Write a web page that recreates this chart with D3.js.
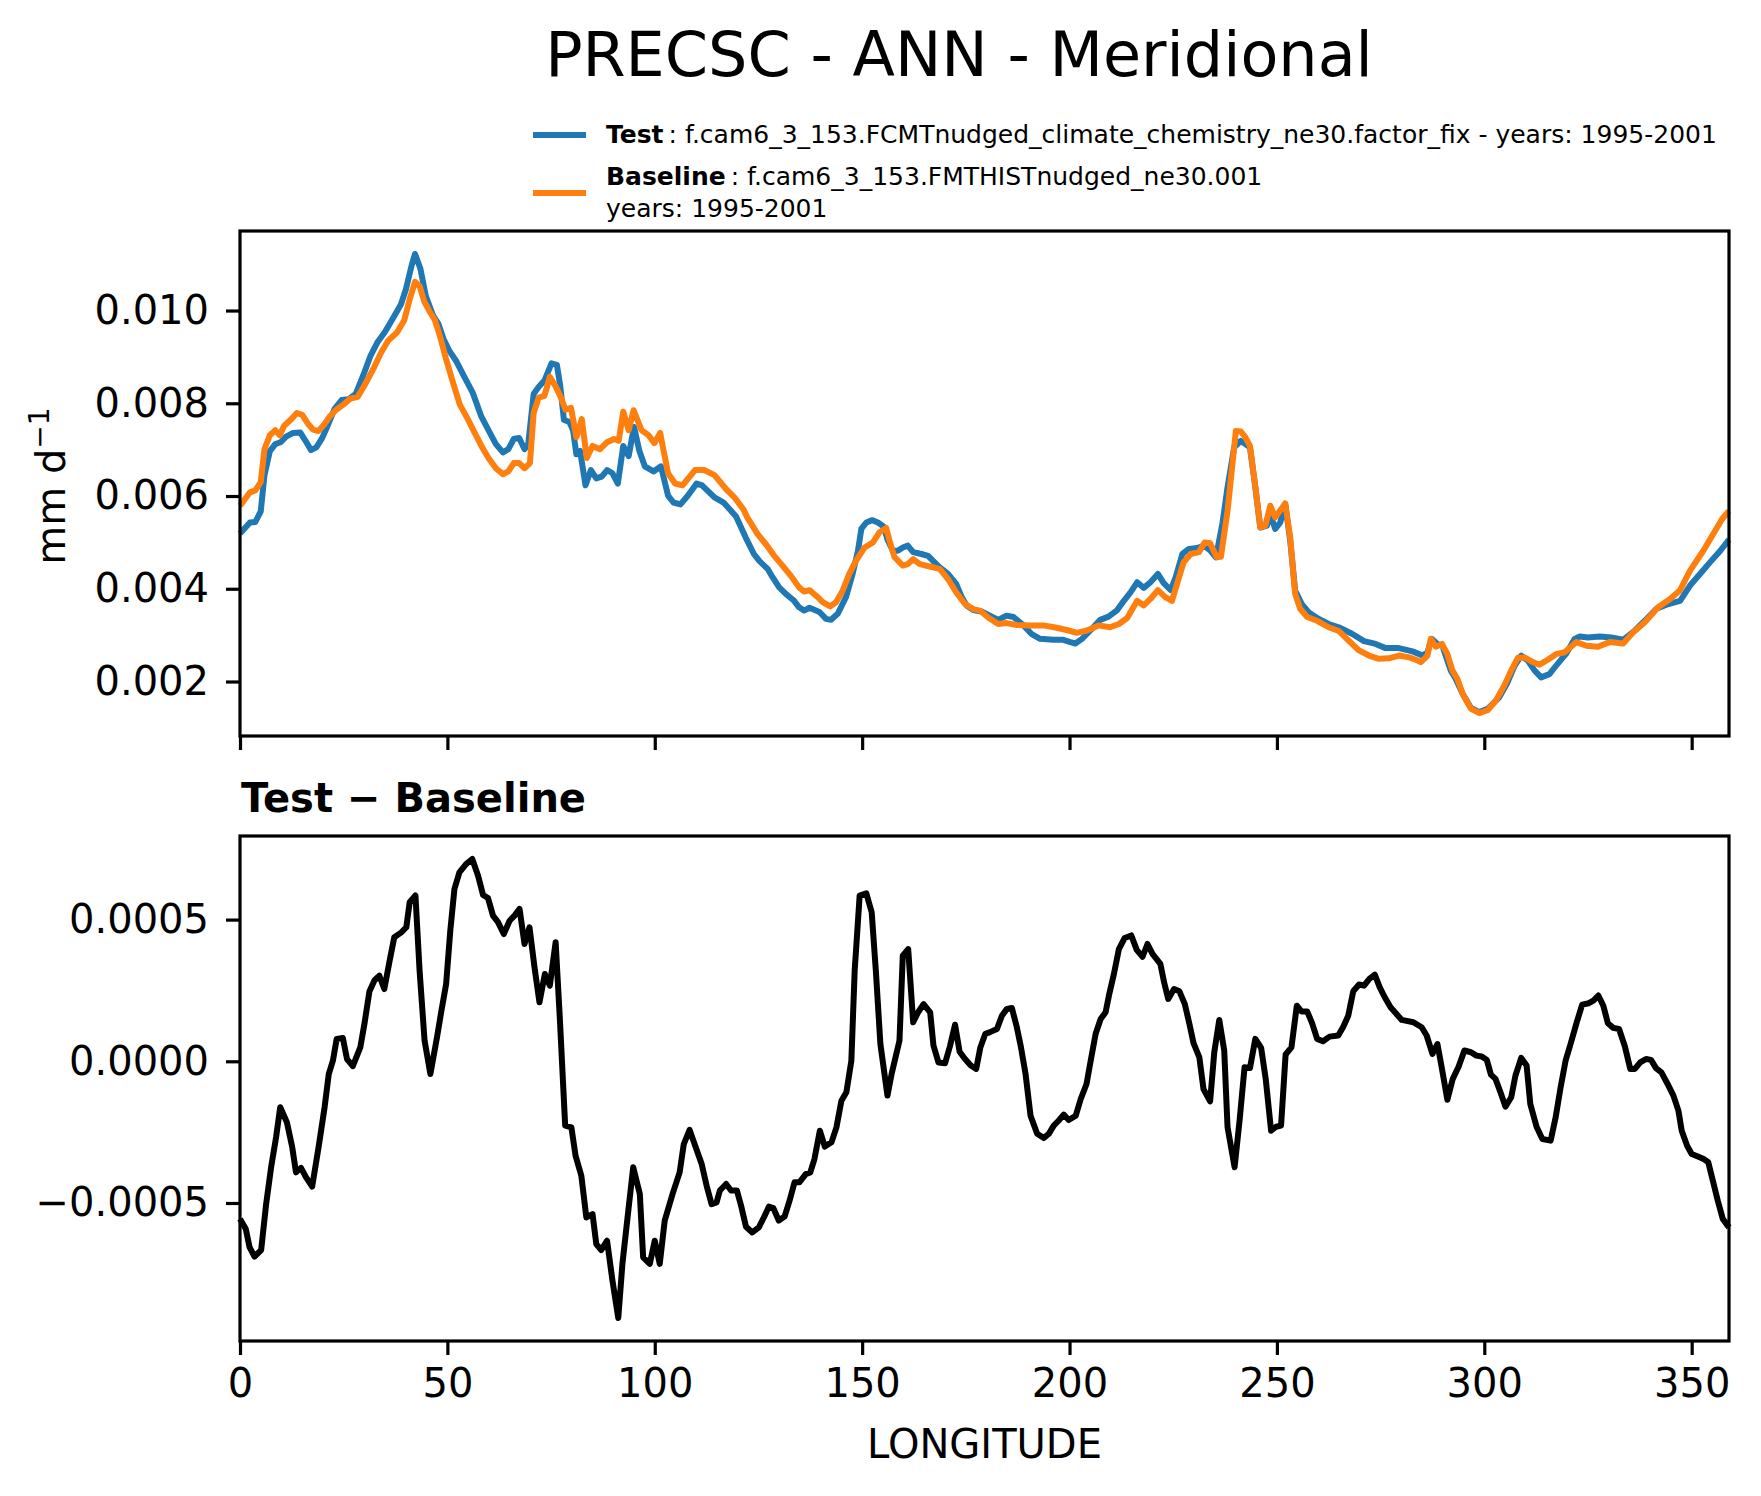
<!DOCTYPE html>
<html>
<head>
<meta charset="utf-8">
<script src="https://cdn.jsdelivr.net/npm/d3@7"></script>
<style>
  html, body { margin: 0; padding: 0; background: #fff; }
  svg { display: block; font-family: 'DejaVu Sans', sans-serif; }
</style>
</head>
<body>
<svg></svg>
<script>
// ---------- data (longitude, mm/day) ----------
const testSeries = [
  [0,0.00519],[2.4,0.00543],[3.7,0.00544],[5,0.00567],[5.9,0.00645],[7.2,0.00697],[8.5,0.00712],[9.8,0.00716],
  [11.1,0.00728],[12.8,0.00736],[14.5,0.00737],[15.8,0.00719],[17.1,0.00699],[18.4,0.00705],[19.7,0.00723],[21,0.00749],
  [22.8,0.00788],[24.5,0.00807],[26.2,0.00809],[27.9,0.0082],[29.7,0.0086],[31.4,0.00901],[33.1,0.00931],[34.9,0.00953],
  [36.6,0.00979],[38.8,0.01013],[40,0.01046],[41.4,0.01098],[42.2,0.01122],[43.5,0.0109],[44.8,0.01031],[46.5,0.0099],
  [47.8,0.00972],[49.1,0.00938],[50.4,0.00914],[52.2,0.0089],[53.9,0.0086],[56.1,0.00823],[58.2,0.00771],[59.9,0.00742],
  [61.7,0.00712],[63.4,0.00694],[64.7,0.00701],[66,0.00723],[67.3,0.00725],[68.6,0.00701],[69.5,0.00712],[70.8,0.0082],
  [72,0.00835],[73.4,0.00849],[75.1,0.00886],[76.4,0.00883],[77.2,0.00838],[78.1,0.00764],[79.4,0.0076],[80.3,0.00742],
  [81.1,0.0069],[82,0.00697],[83.3,0.00623],[84.6,0.00656],[85.9,0.00638],[87.2,0.00642],[88.5,0.00656],[89.8,0.00649],
  [91.1,0.00627],[92.4,0.00708],[93.7,0.00686],[95,0.00749],[96.3,0.00697],[97.6,0.00664],[99.7,0.00653],[101.5,0.00664],
  [103.2,0.00601],[104.5,0.00586],[106.2,0.00582],[108,0.00601],[110.1,0.00627],[111.4,0.00623],[114.4,0.00597],[116.6,0.00586],
  [119.6,0.00556],[121.9,0.00511],[123.9,0.00475],[125.2,0.0046],[127.2,0.00443],[128.4,0.00425],[130,0.00403],[131.6,0.00389],
  [133.6,0.00374],[134.8,0.0036],[136,0.00353],[137.3,0.00359],[139.7,0.0035],[141.3,0.00335],[142.5,0.00333],[144.1,0.00346],
  [146.1,0.00382],[147.7,0.00432],[149,0.00482],[149.8,0.00529],[151,0.00543],[152.4,0.00548],[153.8,0.00543],[155.2,0.00534],
  [156.2,0.00504],[157.4,0.00482],[158.6,0.00482],[159.8,0.00489],[161,0.00493],[162.3,0.00479],[164.3,0.00475],[165.9,0.00471],
  [167.1,0.0046],[168.7,0.00446],[170.7,0.00432],[172.7,0.0041],[174,0.00382],[175.2,0.00364],[176.8,0.00354],[178.8,0.00351],
  [180.8,0.00342],[182.8,0.00333],[184.8,0.00342],[186.5,0.00339],[188.9,0.00321],[190.9,0.00302],[192.9,0.00292],[196.1,0.0029],
  [198.5,0.0029],[200.2,0.00285],[201.4,0.00282],[203,0.00292],[205,0.0031],[207.4,0.00333],[209.4,0.0034],[211.5,0.00354],
  [213.1,0.00374],[214.7,0.00392],[216.3,0.00414],[217.9,0.00402],[219.5,0.00414],[221.3,0.00432],[222.7,0.00412],[224.4,0.00397],
  [225.6,0.00425],[227.2,0.00475],[228.8,0.00486],[230.8,0.00488],[232.4,0.00493],[234,0.00482],[235.3,0.00468],[236.9,0.00543],
  [238.1,0.00619],[239.7,0.00705],[241.3,0.00719],[243.5,0.00705],[244.8,0.00619],[246,0.00532],[247.6,0.00536],[248.4,0.00561],
  [249.6,0.00529],[250.8,0.00543],[252,0.00583],[253.2,0.00504],[254.4,0.00396],[256,0.00367],[257.7,0.00349],[260.1,0.00335],
  [262.5,0.00324],[264.9,0.00317],[268.1,0.00303],[271,0.00287],[273.8,0.00281],[276.2,0.00272],[279.4,0.00272],[282.7,0.00265],
  [285.1,0.00256],[286.3,0.00263],[287.3,0.00292],[288.7,0.00281],[289.9,0.00277],[291.9,0.00224],[293.1,0.00206],[294.8,0.00173],
  [296.8,0.00143],[298.8,0.00134],[300.8,0.00141],[303.6,0.00166],[305.6,0.00198],[307.3,0.00234],[308.9,0.00256],[310.5,0.00245],
  [312.1,0.00224],[313.7,0.00209],[315.7,0.00216],[317.3,0.00234],[319.8,0.00261],[321.8,0.00292],[323,0.00297],[325,0.00295],
  [327.8,0.00297],[330.6,0.00295],[333.5,0.0029],[336.3,0.0031],[338.7,0.00331],[341.5,0.00357],[344.4,0.00367],[347.2,0.00374],
  [349.6,0.00407],[352,0.00432],[354.4,0.00457],[356.9,0.00482],[359,0.00506]
];

const baselineSeries = [
  [0,0.00579],[2.4,0.00608],[3.7,0.00612],[5,0.0063],[5.9,0.00701],[7.2,0.00731],[8.5,0.00742],[9.6,0.00731],
  [10.6,0.00751],[12.4,0.00766],[13.7,0.00779],[15,0.00775],[16.3,0.00757],[17.6,0.00743],[18.9,0.0074],[20.2,0.00753],
  [21.5,0.0077],[23.2,0.00786],[24.9,0.00797],[26.6,0.0081],[28.4,0.00814],[30.1,0.0084],[32.3,0.00877],[34,0.00909],
  [35.7,0.00935],[37.9,0.00953],[39.6,0.00979],[40.9,0.01024],[42.2,0.01062],[43.3,0.01053],[44.4,0.0102],[45.7,0.00998],
  [47,0.00979],[48.3,0.00942],[49.6,0.00898],[51.3,0.00846],[53,0.00797],[54.8,0.00768],[56.5,0.00738],[58.2,0.00708],
  [59.9,0.00682],[61.7,0.0066],[63.4,0.00647],[64.7,0.00653],[66,0.00671],[67.3,0.00671],[68.6,0.0066],[69.9,0.00671],
  [70.8,0.00779],[72,0.00812],[73.4,0.00816],[74.7,0.00857],[76,0.00838],[77.2,0.00816],[78.5,0.00786],[79.8,0.0079],
  [81.1,0.00727],[82.4,0.00766],[83.6,0.00682],[85,0.00708],[86.8,0.00701],[88.5,0.00716],[90.2,0.00723],[91.3,0.00719],
  [92.4,0.00782],[93.7,0.00742],[94.9,0.00785],[96.8,0.00742],[98.5,0.00731],[99.9,0.00714],[101.3,0.00736],[103.2,0.00649],
  [104.9,0.00627],[106.7,0.00623],[109.7,0.00656],[111.9,0.00656],[114.4,0.00645],[117.5,0.00612],[119.2,0.00597],[121.4,0.00571],
  [122.3,0.00554],[124.8,0.00518],[126.8,0.00496],[128.8,0.00471],[130.8,0.0045],[132.8,0.00428],[134.8,0.00403],[136,0.00394],
  [137.3,0.00397],[138.9,0.00385],[140.5,0.00371],[142.3,0.00362],[143.7,0.00371],[145.3,0.00396],[146.9,0.00432],[148.5,0.0046],
  [150.6,0.00489],[152.6,0.005],[154.2,0.00522],[155.8,0.00531],[156.6,0.00504],[157.8,0.00468],[159.8,0.0045],[161,0.00453],
  [162.3,0.00464],[163.9,0.00453],[166.3,0.00448],[168.7,0.00443],[170.7,0.00421],[172.7,0.00392],[174.8,0.00367],[176.8,0.00356],
  [178.4,0.00353],[180.4,0.00338],[182.8,0.00324],[184.8,0.00326],[187.3,0.00322],[190.5,0.00321],[193.7,0.00321],[196.9,0.00316],
  [199.8,0.0031],[201.8,0.00305],[204.2,0.0031],[207,0.00321],[209.8,0.00317],[211.9,0.00324],[213.9,0.00337],[216.3,0.00374],
  [217.9,0.00364],[219.5,0.00378],[221.3,0.00397],[223.1,0.00382],[224.7,0.00374],[225.9,0.0041],[227.5,0.00457],[229.2,0.00475],
  [231.2,0.00479],[232.6,0.005],[233.9,0.00498],[235.5,0.00468],[236.5,0.00469],[238.1,0.00568],[240.1,0.0074],[241.3,0.00739],
  [242.3,0.00728],[243.5,0.00708],[244.8,0.00619],[246,0.00532],[247.2,0.00536],[248.4,0.00579],[249.6,0.00554],[252,0.00584],
  [253.2,0.00511],[254.4,0.00389],[255.6,0.00357],[257.3,0.00339],[259.7,0.00331],[262.5,0.00317],[264.9,0.00309],[267.3,0.00288],
  [269.8,0.00267],[272.2,0.00256],[274.6,0.00249],[277,0.0025],[279.4,0.00256],[281.9,0.00252],[283.5,0.00247],[284.7,0.00242],
  [286.3,0.00256],[287.1,0.00292],[288.3,0.00275],[289.8,0.00281],[291.1,0.00259],[292.3,0.00224],[293.5,0.00206],[294.8,0.00173],
  [296.8,0.00141],[298.8,0.00132],[300.8,0.00138],[302.8,0.00159],[304.8,0.00191],[306.5,0.00224],[308.1,0.00251],[309.7,0.00252],
  [311.7,0.00242],[313.3,0.00236],[315.3,0.00247],[317.3,0.00259],[319.4,0.00263],[322.2,0.00285],[324.6,0.00277],[327.4,0.00275],
  [330.2,0.00285],[333.5,0.00282],[335.9,0.00306],[338.7,0.00328],[341.9,0.0036],[344.8,0.00378],[347.2,0.00397],[349.6,0.00439],
  [352.8,0.00482],[355.2,0.00518],[357.3,0.0055],[359,0.00568]
];

const diffSeries = [
  [0,-0.000556],[1.4,-0.000592],[2.3,-0.000656],[3.5,-0.000689],[5.1,-0.000666],[6.3,-0.000504],[7.5,-0.000374],[8.7,-0.000268],
  [9.7,-0.000162],[11.3,-0.000215],[12.6,-0.000304],[13.5,-0.000392],[14.7,-0.000376],[15.9,-0.000409],[17.4,-0.000442],[19,-0.000298],
  [20.4,-0.000162],[21.4,-0.000045],[22.4,0.000002],[23.3,0.000079],[24.8,0.000082],[25.8,0.000008],[27.2,-0.000017],[29,0.000049],
  [30,0.000132],[31.2,0.000246],[32.4,0.000285],[33.6,0.000302],[34.8,0.000255],[36,0.000349],[37.2,0.000438],[38.9,0.000455],
  [40.1,0.000473],[40.9,0.000561],[42.3,0.000585],[43.3,0.00032],[44.5,0.000073],[45.9,-0.000045],[47.5,0.000085],[48.5,0.000173],
  [49.7,0.000273],[50.7,0.000461],[51.7,0.000608],[52.9,0.000667],[54.5,0.000696],[56,0.000714],[57.4,0.000655],[58.6,0.000587],
  [59.8,0.000576],[61,0.000514],[62.2,0.000491],[63.6,0.000449],[65,0.000496],[66.2,0.000514],[67.4,0.000538],[68.6,0.000414],
  [69.8,0.000473],[71,0.000332],[72.2,0.000208],[73.5,0.000308],[74.7,0.000267],[76.1,0.00042],[77.1,0.000155],[78.4,-0.000227],
  [79.9,-0.000233],[80.9,-0.000333],[82.3,-0.000404],[83.5,-0.000551],[85,-0.000539],[85.9,-0.000645],[87.1,-0.000666],[88.5,-0.000633],
  [89.8,-0.000774],[91.2,-0.000906],[92.2,-0.000715],[93.4,-0.000556],[94.8,-0.000374],[96.4,-0.000468],[97.2,-0.000692],[98.8,-0.000715],
  [100,-0.000633],[101.2,-0.000715],[102.4,-0.000562],[104.3,-0.000468],[106,-0.000392],[107,-0.000292],[108.4,-0.000242],[110,-0.000309],
  [111.3,-0.000362],[112.5,-0.000439],[113.7,-0.000504],[114.9,-0.000498],[115.7,-0.000456],[117.2,-0.000433],[118.4,-0.000456],[119.8,-0.000456],
  [120.8,-0.000509],[122,-0.000584],[123.5,-0.000604],[125.1,-0.000586],[126.5,-0.000545],[127.5,-0.000513],[128.6,-0.000518],[129.9,-0.000562],
  [131.3,-0.000548],[132.5,-0.000492],[133.7,-0.000427],[134.9,-0.000427],[136.4,-0.000398],[137.5,-0.000392],[138.5,-0.000345],[139.8,-0.000245],
  [141,-0.000301],[142.6,-0.000286],[143.8,-0.000233],[145,-0.000139],[146.2,-0.000109],[147.4,0.000002],[148.2,0.00032],[149.4,0.000585],
  [151,0.000593],[152.3,0.000526],[153.3,0.00032],[154.4,0.000061],[156.1,-0.000121],[157.1,-0.000045],[159,0.000073],[159.8,0.000373],
  [161.1,0.000396],[162.3,0.000138],[163.5,0.000173],[164.8,0.000202],[166.4,0.000173],[167.2,0.000055],[168.4,-0.000004],[170,-0.000007],
  [171.2,0.000055],[172.4,0.000129],[173.5,0.000034],[174.8,0.000008],[176.2,-0.000015],[177.5,-0.000027],[178.5,0.000049],[179.7,0.000097],
  [180.7,0.000102],[182.5,0.000114],[183.7,0.000161],[184.9,0.000185],[186.1,0.000188],[187.3,0.00012],[188.3,0.000049],[189.4,-0.000045],
  [190.6,-0.000192],[192.2,-0.000256],[193.8,-0.000271],[195,-0.000256],[196.2,-0.000227],[197.4,-0.000209],[198.6,-0.000188],[199.8,-0.000207],
  [201.5,-0.000192],[202.7,-0.000133],[204.1,-0.00008],[205.1,0.000002],[206.3,0.000097],[207.5,0.000149],[208.7,0.000173],[209.5,0.000232],
  [210.7,0.000308],[211.9,0.000396],[213.3,0.000435],[214.9,0.000444],[216.2,0.000393],[217.6,0.000369],[218.8,0.000414],[220,0.000379],
  [221.9,0.000344],[222.8,0.000279],[223.8,0.00022],[225.2,0.000255],[226.5,0.000247],[227.8,0.000202],[228.9,0.000132],[229.9,0.000064],
  [231.3,0.000014],[232.3,-0.000098],[233.9,-0.000141],[234.9,0.000032],[236.1,0.000146],[237.3,0.000038],[238.1,-0.000233],[239.8,-0.000374],
  [241,-0.000209],[242.2,-0.000021],[243.5,-0.000024],[244.8,0.000079],[246.2,0.000047],[247.3,-0.000062],[248.6,-0.000245],[249.8,-0.000231],
  [251,-0.000227],[252.1,0.000024],[253.5,0.000049],[254.8,0.000196],[255.9,0.000176],[257.3,0.000176],[258.5,0.000134],[259.7,0.000079],
  [261.1,0.000071],[262.7,0.000087],[264.8,0.000091],[266,0.000122],[267.2,0.000161],[268.4,0.000247],[269.8,0.000271],[271,0.000267],
  [272.3,0.000291],[273.6,0.000306],[274.8,0.000261],[276,0.000226],[277.4,0.000191],[280.1,0.000146],[282.9,0.000138],[284.9,0.00012],
  [286.1,0.000091],[287.5,0.000026],[288.7,0.000061],[289.8,-0.000027],[291.1,-0.000136],[292.4,-0.000062],[293.8,-0.000019],[295.2,0.000038],
  [296.8,0.000032],[298.1,0.00002],[299.4,0.000017],[300.6,0.000005],[301.6,-0.000047],[302.7,-0.000062],[303.9,-0.000109],[305.1,-0.00016],
  [306.5,-0.000127],[307.5,-0.000051],[308.9,0.000012],[310.2,-0.000015],[311.1,-0.000151],[312.6,-0.000231],[314,-0.000274],[316,-0.00028],
  [317.2,-0.000198],[318.4,-0.000092],[319.6,0.000002],[320.8,0.000061],[322.3,0.000138],[323.6,0.0002],[325.2,0.000205],[326.3,0.000214],
  [327.5,0.000232],[328.7,0.000196],[329.8,0.000134],[331.1,0.000118],[332.5,0.000114],[333.9,0.000052],[335.2,-0.000027],[336.3,-0.000027],
  [337.6,-0.000004],[339,0.000008],[340.2,0.000005],[341.4,-0.000024],[342.7,-0.000039],[344.2,-0.00008],[345.6,-0.000121],[346.8,-0.000174],
  [347.6,-0.000245],[348.9,-0.000298],[350,-0.000327],[351.5,-0.000336],[352.9,-0.000345],[354,-0.000356],[355.3,-0.000433],[356.3,-0.000492],
  [357.5,-0.000556],[359,-0.000586]
];

const lonLimits = [0, 359];
const lonTicks = [0, 50, 100, 150, 200, 250, 300, 350];
const topTicks = [0.002, 0.004, 0.006, 0.008, 0.010];
const diffTicks = [-0.0005, 0, 0.0005];

const titleText = 'PRECSC - ANN - Meridional';
const legendItems = [
  {name: 'Test', lines: [': f.cam6_3_153.FCMTnudged_climate_chemistry_ne30.factor_fix - years: 1995-2001']},
  {name: 'Baseline', lines: [': f.cam6_3_153.FMTHISTnudged_ne30.001', 'years: 1995-2001']}
];

// ---------- layout ----------
const size = {w: 1761, h: 1496};
const plot = {l: 240, r: 1729};
const topBox = {t: 231, b: 736};
const botBox = {t: 836, b: 1341};
const colors = {test: '#1f77b4', base: '#ff7f0e', diff: '#000000'};
const tickLen = 14, tickPad = 14;

const svg = d3.select('svg')
    .attr('width', size.w)
    .attr('height', size.h);

svg.append('rect').attr('width', size.w).attr('height', size.h).attr('fill', '#fff');

// matplotlib-like autoscale: 5% margin around the data
function padded(values) {
    let [lo, hi] = d3.extent(values);
    let m = (hi - lo) * 0.05;
    return [lo - m, hi + m];
}

const x = d3.scaleLinear().domain(lonLimits).range([plot.l, plot.r]);

const yTop = d3.scaleLinear()
    .domain(padded(testSeries.concat(baselineSeries).map(d => d[1])))
    .range([topBox.b, topBox.t]);

const yBot = d3.scaleLinear()
    .domain(padded(diffSeries.map(d => d[1])))
    .range([botBox.b, botBox.t]);

function styleAxis(g) {
    g.select('.domain').remove();
    g.selectAll('.tick line').attr('stroke', '#000').attr('stroke-width', 3.2);
    g.selectAll('.tick text')
        .attr('fill', '#000')
        .style('font-size', '40px')
        .style('font-family', "'DejaVu Sans', sans-serif");
}

function drawPanel(y, box, yTickValues, yFormat, showXLabels) {
    let g = svg.append('g');

    // x axis
    let xAxis = d3.axisBottom(x)
        .tickValues(lonTicks)
        .tickSize(tickLen)
        .tickPadding(tickPad)
        .tickFormat(showXLabels ? d3.format('d') : '');
    g.append('g')
        .attr('transform', `translate(0, ${box.b})`)
        .call(xAxis)
        .call(styleAxis);

    // y axis
    let yAxis = d3.axisLeft(y)
        .tickValues(yTickValues)
        .tickSize(tickLen)
        .tickPadding(tickPad + 3)
        .tickFormat(yFormat);
    g.append('g')
        .attr('transform', `translate(${plot.l}, 0)`)
        .call(yAxis)
        .call(styleAxis);

    return g;
}

const topG = drawPanel(yTop, topBox, topTicks, d3.format('.3f'), false);
const botG = drawPanel(yBot, botBox, diffTicks, d3.format('.4f'), true);

// lines
const lineTop = d3.line().x(d => x(d[0])).y(d => yTop(d[1]));
const lineBot = d3.line().x(d => x(d[0])).y(d => yBot(d[1]));

[[testSeries, colors.test], [baselineSeries, colors.base]].forEach(([series, c]) => {
    topG.append('path')
        .datum(series)
        .attr('d', lineTop)
        .attr('fill', 'none')
        .attr('stroke', c)
        .attr('stroke-width', 6)
        .attr('stroke-linejoin', 'round');
});

botG.append('path')
    .datum(diffSeries)
    .attr('d', lineBot)
    .attr('fill', 'none')
    .attr('stroke', colors.diff)
    .attr('stroke-width', 6)
    .attr('stroke-linejoin', 'round');

// frames on top of lines
[topBox, botBox].forEach(box => {
    svg.append('rect')
        .attr('x', plot.l)
        .attr('y', box.t)
        .attr('width', plot.r - plot.l)
        .attr('height', box.b - box.t)
        .attr('fill', 'none')
        .attr('stroke', '#000')
        .attr('stroke-width', 3.2);
});

// title
svg.append('text')
    .attr('x', 959)
    .attr('y', 76)
    .attr('text-anchor', 'middle')
    .style('font-size', '62px')
    .text(titleText);

// legend
const legendG = svg.append('g');
const legendRows = [
    {item: legendItems[0], color: colors.test, handleY: 135, baselines: [143]},
    {item: legendItems[1], color: colors.base, handleY: 193, baselines: [185, 217]}
];
legendRows.forEach(row => {
    legendG.append('line')
        .attr('x1', 533).attr('x2', 586)
        .attr('y1', row.handleY).attr('y2', row.handleY)
        .attr('stroke', row.color)
        .attr('stroke-width', 6);
    row.item.lines.forEach((txt, i) => {
        let t = legendG.append('text')
            .attr('x', 606)
            .attr('y', row.baselines[i])
            .style('font-size', '25px');
        if (i === 0) {
            t.append('tspan').style('font-weight', 'bold').text(row.item.name);
            t.append('tspan').attr('dx', 5).text(txt);
        } else {
            t.text(txt);
        }
    });
});

// y label with superscript
const yLab = svg.append('text')
    .attr('transform', `translate(65, 486) rotate(-90)`)
    .attr('text-anchor', 'middle')
    .style('font-size', '40px');
yLab.append('tspan').text('mm d');
yLab.append('tspan').attr('dy', -16).style('font-size', '28px').text('\u22121');

// bottom panel title (mathtext-like spacing round the minus)
const subT = svg.append('text')
    .attr('x', 241)
    .attr('y', 812)
    .style('font-size', '40px')
    .style('font-weight', 'bold');
subT.append('tspan').text('Test');
subT.append('tspan').attr('dx', 14).text('\u2212');
subT.append('tspan').attr('dx', 14).text('Baseline');

// x label
svg.append('text')
    .attr('x', (plot.l + plot.r) / 2)
    .attr('y', 1458)
    .attr('text-anchor', 'middle')
    .style('font-size', '40px')
    .text('LONGITUDE');
</script>
</body>
</html>
